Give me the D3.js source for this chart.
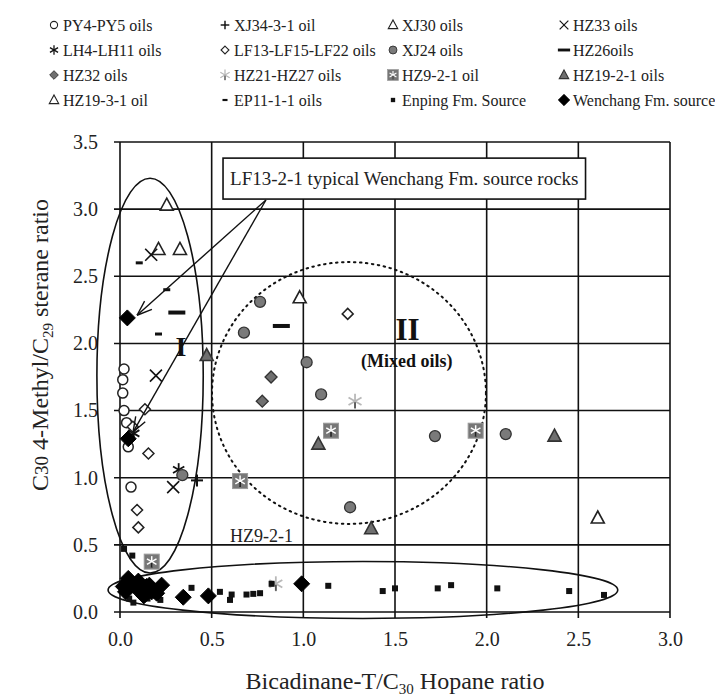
<!DOCTYPE html>
<html><head><meta charset="utf-8">
<script src="https://cdn.jsdelivr.net/npm/d3@7"></script>
<style>body{margin:0;background:#fff}svg{display:block}</style>
</head><body>
<script>
// ---------- data ----------
const xTicks = [0, 0.5, 1.0, 1.5, 2.0, 2.5, 3.0];
const yTicks = [0, 0.5, 1.0, 1.5, 2.0, 2.5, 3.0, 3.5];

const py4py5 = [[0.022,1.81],[0.015,1.73],[0.015,1.63],[0.022,1.50],[0.036,1.41],[0.045,1.23],[0.06,0.93]];
const xj34 = [[0.42,0.98]];
const xj30 = [[0.255,3.03],[0.21,2.70],[0.327,2.70],[0.98,2.34]];
const hz33 = [[0.17,2.66],[0.196,1.76],[0.29,0.93]];
const lh4lh11 = [[0.32,1.06],[0.075,1.33]];
const lf13 = [[0.136,1.51],[0.155,1.18],[0.093,0.76],[0.10,0.63],[1.242,2.22],[0.07,1.38]];
const xj24 = [[0.764,2.31],[0.676,2.08],[1.018,1.86],[1.097,1.62],[1.718,1.31],[2.104,1.325],[1.255,0.78],[0.34,1.02]];
const hz26 = [[0.31,2.23],[0.88,2.13]];
const hz32 = [[0.824,1.75],[0.776,1.57]];
const hz21hz27 = [[1.282,1.57],[0.85,0.21]];
const hz921 = [[0.655,0.975],[1.151,1.35],[1.94,1.35],[0.173,0.375]];
const hz1921 = [[0.473,1.91],[1.082,1.25],[1.37,0.62],[2.37,1.31]];
const hz1931 = [[2.606,0.70]];
const ep11 = [[0.105,2.60],[0.255,2.40],[0.21,2.07]];
const enping = [[0.022,0.47],[0.067,0.42],[0.39,0.18],[0.545,0.15],[0.609,0.13],[0.60,0.09],[0.69,0.13],[0.727,0.135],[0.764,0.14],[0.827,0.21],[1.136,0.195],[1.433,0.156],[1.50,0.176],[1.733,0.176],[1.806,0.20],[2.058,0.176],[2.45,0.156],[2.64,0.127],[0.073,0.07],[0.05,0.10],[0.15,0.10],[0.20,0.12],[0.22,0.09],[0.12,0.13]];
const wenchang = [[0.04,2.19],[0.045,1.29],[0.018,0.19],[0.045,0.25],[0.082,0.20],[0.109,0.15],[0.145,0.19],[0.173,0.15],[0.227,0.20],[0.345,0.11],[0.482,0.12],[0.991,0.21],[0.03,0.15],[0.06,0.22],[0.10,0.23],[0.13,0.12],[0.16,0.20],[0.20,0.14]];

const legendLabels = [
  "PY4-PY5 oils","XJ34-3-1 oil","XJ30 oils","HZ33 oils",
  "LH4-LH11 oils","LF13-LF15-LF22 oils","XJ24 oils","HZ26oils",
  "HZ32 oils","HZ21-HZ27 oils","HZ9-2-1 oil","HZ19-2-1 oils",
  "HZ19-3-1 oil","EP11-1-1 oils","Enping Fm. Source","Wenchang Fm. source"
];
const legendSymbols = [
  "circleOpen","plus","triOpen","cross",
  "asterisk","diamondOpen","circleGray","dashLong",
  "diamondGray","starLight","squareStar","triGray",
  "triOpen","dashSmall","squareSmall","diamondBlack"
];
const seriesData = [py4py5,xj34,xj30,hz33,lh4lh11,lf13,xj24,hz26,hz32,hz21hz27,hz921,hz1921,hz1931,ep11,enping,wenchang];

// ---------- setup ----------
const W = 715, H = 697;
const FONT = '"Liberation Serif","Times New Roman",serif';
const svg = d3.select("body").append("svg").attr("width", W).attr("height", H)
  .style("font-family", FONT);
const x = d3.scaleLinear().domain([0, 3]).range([120, 670]);
const y = d3.scaleLinear().domain([0, 3.5]).range([612, 142]);
const INK = "#111";

// grid
const g = svg.append("g");
g.selectAll(".vg").data(xTicks).join("line")
  .attr("x1", d => x(d)).attr("x2", d => x(d)).attr("y1", y(3.5)).attr("y2", y(0) + 6)
  .attr("stroke", INK).attr("stroke-width", 1.6);
g.selectAll(".hg").data(yTicks).join("line")
  .attr("y1", d => y(d)).attr("y2", d => y(d)).attr("x1", x(0) - 6).attr("x2", x(3))
  .attr("stroke", INK).attr("stroke-width", 1.6);

// axes labels via d3 axes
const xAxis = svg.append("g").attr("transform", `translate(0,${y(0)})`)
  .call(d3.axisBottom(x).tickValues(xTicks).tickFormat(d3.format(".1f")).tickSize(0).tickPadding(28));
const yAxis = svg.append("g").attr("transform", `translate(${x(0)},0)`)
  .call(d3.axisLeft(y).tickValues(yTicks).tickFormat(d3.format(".1f")).tickSize(0).tickPadding(22));
[xAxis, yAxis].forEach(a => {
  a.select(".domain").remove();
  a.selectAll("text").attr("font-family", FONT).attr("font-size", 20).attr("fill", "#222");
});
xAxis.selectAll("text").attr("dy", "0.32em");

// axis titles
const xt = svg.append("text").attr("x", 395).attr("y", 689).attr("text-anchor", "middle")
  .attr("font-size", 24).attr("fill", "#222");
xt.append("tspan").text("Bicadinane-T/C");
xt.append("tspan").attr("font-size", 15).attr("dy", 5).text("30");
xt.append("tspan").attr("dy", -5).text(" Hopane ratio");

const yt = svg.append("text").attr("transform", `translate(48,${(y(0)+y(3.5))/2 - 32}) rotate(-90)`)
  .attr("text-anchor", "middle").attr("font-size", 24).attr("fill", "#222");
yt.append("tspan").text("C");
yt.append("tspan").attr("font-size", 19).text("30");
yt.append("tspan").text(" 4-Methyl/C");
yt.append("tspan").attr("font-size", 15).attr("dy", 5).text("29");
yt.append("tspan").attr("dy", -5).text(" sterane ratio");

// ---------- annotation shapes (data units) ----------
const regionI = {cx: 0.164, cy: 1.76, rx: 0.29, ry: 1.47};
const regionEnping = {cx: 1.325, cy: 0.164, rx: 1.39, ry: 0.212};
const regionII = {cx: 1.249, cy: 1.631, rx: 0.747, ry: 0.975};
const ann = svg.append("g").attr("fill", "none").attr("stroke", INK);
function ell(r) {
  return ann.append("ellipse").attr("cx", x(r.cx)).attr("cy", y(r.cy))
    .attr("rx", x(r.rx) - x(0)).attr("ry", y(0) - y(r.ry));
}
ell(regionI).attr("stroke-width", 1.6);
ell(regionEnping).attr("stroke-width", 1.6);
ell(regionII).attr("stroke-width", 2).attr("stroke-dasharray", "1.5,4.5").attr("stroke-linecap", "round");

// ---------- markers ----------
function drawMarker(sel, type, cx, cy, s = 1) {
  const G = sel.append("g").attr("transform", `translate(${cx},${cy}) scale(${s})`);
  const star = (len, col, sw) => {
    [0, 60, 120].forEach(a => {
      const r = a * Math.PI / 180;
      G.append("line").attr("x1", -len * Math.sin(r)).attr("y1", -len * Math.cos(r))
        .attr("x2", len * Math.sin(r)).attr("y2", len * Math.cos(r))
        .attr("stroke", col).attr("stroke-width", sw);
    });
  };
  const tri = (fill, stroke) => G.append("path").attr("d", "M0,-7 L6.5,5 L-6.5,5 Z")
    .attr("fill", fill).attr("stroke", stroke).attr("stroke-width", 1.6).attr("stroke-linejoin", "miter");
  const dia = (h, fill, stroke, sw) => G.append("path").attr("d", `M0,${-h} L${h},0 L0,${h} L${-h},0 Z`)
    .attr("fill", fill).attr("stroke", stroke).attr("stroke-width", sw);
  switch (type) {
    case "circleOpen": G.append("circle").attr("r", 5).attr("fill", "#fff").attr("stroke", "#222").attr("stroke-width", 1.5); break;
    case "circleGray": G.append("circle").attr("r", 5.5).attr("fill", "#7a7a7a").attr("stroke", "#333").attr("stroke-width", 1.3); break;
    case "plus":
      G.append("line").attr("x1", -6).attr("x2", 6).attr("stroke", INK).attr("stroke-width", 2);
      G.append("line").attr("y1", -6).attr("y2", 6).attr("stroke", INK).attr("stroke-width", 2); break;
    case "cross":
      G.append("line").attr("x1", -6).attr("y1", -6).attr("x2", 6).attr("y2", 6).attr("stroke", INK).attr("stroke-width", 1.6);
      G.append("line").attr("x1", -6).attr("y1", 6).attr("x2", 6).attr("y2", -6).attr("stroke", INK).attr("stroke-width", 1.6); break;
    case "asterisk": star(6.5, INK, 1.8); break;
    case "triOpen": tri("#fff", "#222"); break;
    case "triGray": tri("#6f6f6f", "#333"); break;
    case "diamondOpen": dia(5.5, "#fff", "#222", 1.5); break;
    case "diamondGray": dia(6, "#6f6f6f", "#333", 1.3); break;
    case "diamondBlack": dia(8, "#000", "#000", 1); break;
    case "dashLong": G.append("rect").attr("x", -8.5).attr("y", -2).attr("width", 17).attr("height", 4).attr("fill", INK); break;
    case "dashSmall": G.append("rect").attr("x", -3.5).attr("y", -1.5).attr("width", 7).attr("height", 3).attr("fill", INK); break;
    case "squareSmall": G.append("rect").attr("x", -3).attr("y", -3).attr("width", 6).attr("height", 6).attr("fill", INK); break;
    case "starLight":
      star(7.5, "#b8b8b8", 1.8);
      G.append("line").attr("y1", 1).attr("y2", 7).attr("stroke", "#555").attr("stroke-width", 1.8); break;
    case "squareStar":
      G.append("rect").attr("x", -7.5).attr("y", -7.5).attr("width", 15).attr("height", 15).attr("fill", "#777").attr("stroke", "#999").attr("stroke-width", 1);
      star(5.5, "#fff", 1.5);
      G.append("line").attr("y1", 1).attr("y2", 6).attr("stroke", "#222").attr("stroke-width", 1.8); break;
  }
}

const pts = svg.append("g");
seriesData.forEach((arr, i) => {
  arr.forEach(d => drawMarker(pts, legendSymbols[i], x(d[0]), y(d[1])));
});

// ---------- labels & callout ----------
svg.append("text").attr("x", x(0.333)).attr("y", y(1.906)).attr("text-anchor", "middle")
  .attr("font-size", 28).attr("font-weight", "bold").attr("fill", INK).text("I");
svg.append("text").attr("x", x(1.568)).attr("y", y(2.025)).attr("text-anchor", "middle")
  .attr("font-size", 31).attr("font-weight", "bold").attr("fill", INK).text("II");
svg.append("text").attr("x", x(1.564)).attr("y", y(1.824)).attr("text-anchor", "middle")
  .attr("font-size", 18).attr("font-weight", "bold").attr("fill", INK).text("(Mixed oils)");
svg.append("text").attr("x", x(0.6)).attr("y", y(0.52))
  .attr("font-size", 18).attr("fill", "#222").text("HZ9-2-1");

// arrows
const arrowFrom = [0.796, 3.068];
const arrowTo = [[0.093, 2.21], [0.071, 1.34]];
arrowTo.forEach(t => {
  const x1 = x(arrowFrom[0]), y1 = y(arrowFrom[1]), x2 = x(t[0]), y2 = y(t[1]);
  svg.append("line").attr("x1", x1).attr("y1", y1).attr("x2", x2).attr("y2", y2)
    .attr("stroke", INK).attr("stroke-width", 1.4);
  const ang = Math.atan2(y1 - y2, x1 - x2);
  [0.35, -0.35].forEach(da => {
    svg.append("line").attr("x1", x2).attr("y1", y2)
      .attr("x2", x2 + 16 * Math.cos(ang + da)).attr("y2", y2 + 16 * Math.sin(ang + da))
      .attr("stroke", INK).attr("stroke-width", 1.4);
  });
});

const callout = svg.append("g");
const ct = callout.append("text").attr("x", x(0.562) + 7).attr("y", y(3.38) + 27)
  .attr("font-size", 19).attr("fill", "#222").text("LF13-2-1 typical Wenchang Fm. source rocks");
const bb = ct.node().getBBox();
callout.insert("rect", "text").attr("x", x(0.562)).attr("y", y(3.38))
  .attr("width", bb.width + 14).attr("height", y(3.075) - y(3.38))
  .attr("fill", "#fff").attr("stroke", INK).attr("stroke-width", 1.6);

// ---------- legend ----------
const colX = [54, 225, 393, 564], rowY = [25, 50, 75, 100];
const leg = svg.append("g");
legendLabels.forEach((lab, i) => {
  const cx = colX[i % 4], cy = rowY[Math.floor(i / 4)];
  drawMarker(leg, legendSymbols[i], cx, cy, 0.72);
  leg.append("text").attr("x", cx + 9).attr("y", cy).attr("dy", "0.35em")
    .attr("font-size", 16).attr("fill", "#222").text(lab);
});
</script>
</body></html>
